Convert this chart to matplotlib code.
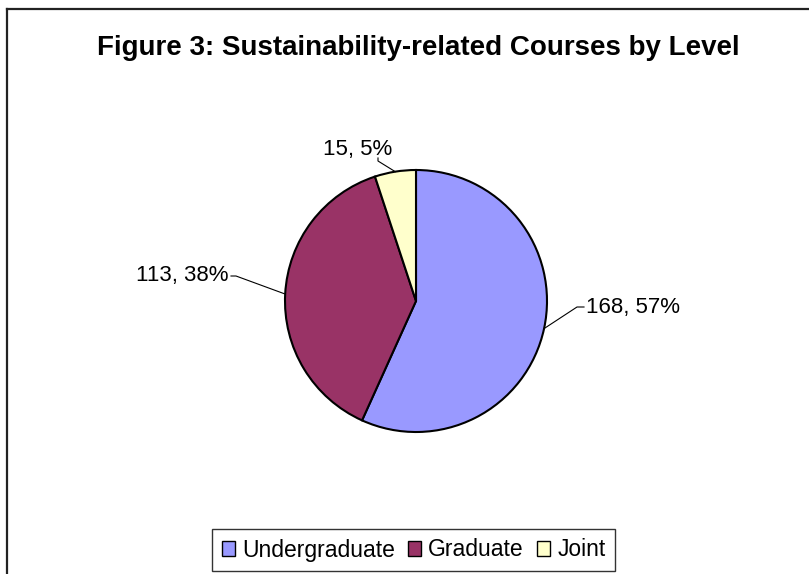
import matplotlib.pyplot as plt
import numpy as np
from matplotlib.patches import Patch
from matplotlib.lines import Line2D

plt.rcParams['font.family'] = ['Liberation Sans', 'DejaVu Sans']

levels = ['Undergraduate', 'Graduate', 'Joint']
courses = [168, 113, 15]
percents = [57, 38, 5]
colors = ['#9999FF', '#993366', '#FFFFCC']

W, H = 809, 574
fig = plt.figure(figsize=(W / 100, H / 100), dpi=100)
ax = fig.add_axes([0, 0, 1, 1])
ax.set_xlim(0, W)
ax.set_ylim(0, H)
ax.set_aspect('equal')
ax.axis('off')

cx, cy, r = 416, H - 301, 131
wedges, _ = ax.pie(courses, colors=colors, startangle=90, counterclock=False,
                   center=(cx, cy), radius=r,
                   wedgeprops=dict(edgecolor='black', linewidth=1.5))
ax.set_xlim(0, W)
ax.set_ylim(0, H)

# leader line layout: elbow point, text anchor, alignment
layout = [
    dict(elbow=(577, H - 307), text=(586, H - 307), ha='left'),
    dict(elbow=(236, H - 276), text=(229, H - 276), ha='right'),
    dict(elbow=(378, H - 161), text=(358, H - 150), ha='center'),
]

for w, n, p, lay in zip(wedges, courses, percents, layout):
    mid = np.deg2rad((w.theta1 + w.theta2) / 2)
    ex, ey = cx + r * np.cos(mid), cy + r * np.sin(mid)
    bx, by = lay['elbow']
    tx, ty = lay['text']
    if lay['ha'] == 'center':
        ax.plot([ex, bx, bx], [ey, by, ty - 8], color='black', lw=0.8)
    else:
        ax.plot([ex, bx, tx + (2 if lay['ha'] == 'right' else -2)], [ey, by, ty],
                color='black', lw=0.8)
    ax.text(tx, ty, f'{n}, {p}%', fontsize=16, ha=lay['ha'], va='center')

ax.text(418, H - 48, 'Figure 3: Sustainability-related Courses by Level',
        fontsize=20, fontweight='bold', ha='center', va='center')

handles = [Patch(facecolor=c, edgecolor='black', linewidth=1) for c in colors]
leg = ax.legend(handles, levels, loc='center', bbox_to_anchor=(413.5, H - 550),
                bbox_transform=ax.transData, ncol=3, fontsize=16.5,
                frameon=True, fancybox=False, edgecolor='black',
                handlelength=0.6, handleheight=0.6, handletextpad=0.3,
                columnspacing=0.55, borderpad=0.4, borderaxespad=0)
leg.get_frame().set_linewidth(1.0)

# chart area border (left and top edges visible)
fig.add_artist(Line2D([7.5 / W, 7.5 / W], [0, 1 - 8.5 / H], color='#222222',
                      lw=1.6, transform=fig.transFigure))
fig.add_artist(Line2D([7.5 / W, 1], [1 - 8.5 / H, 1 - 8.5 / H], color='#222222',
                      lw=1.6, transform=fig.transFigure))

fig.savefig('out.png', dpi=100)
